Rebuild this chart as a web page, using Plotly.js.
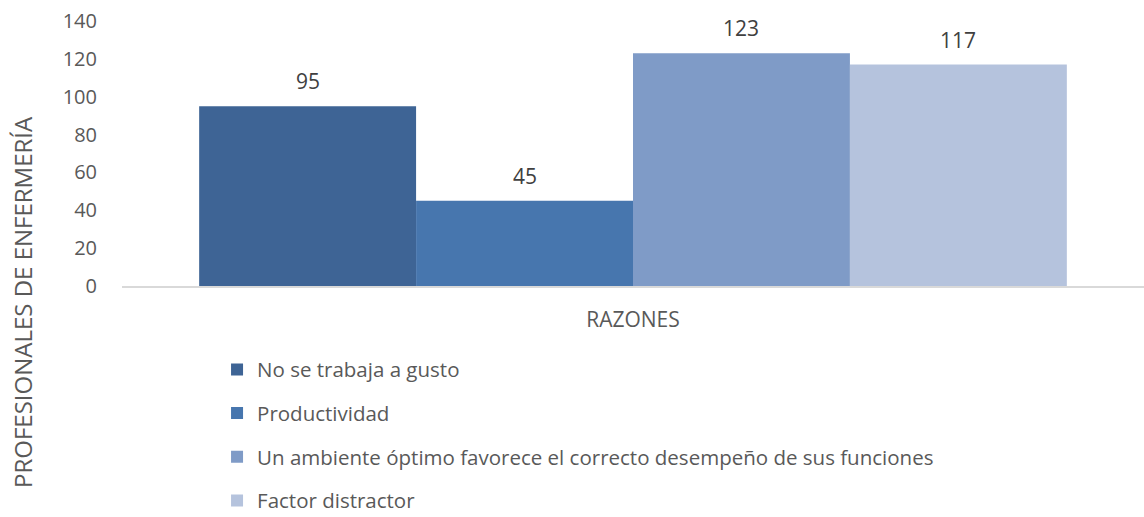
<!DOCTYPE html>
<html>
<head>
<meta charset="utf-8">
<script src="https://cdn.plot.ly/plotly-3.0.1.min.js"></script>
<style>html,body{margin:0;padding:0;background:#fff;}#chart{width:1144px;height:517px;}</style>
</head>
<body>
<div id="chart"></div>
<script>
const categories = ["RAZONES"];
const seriesNames = [
  "No se trabaja a gusto",
  "Productividad",
  "Un ambiente óptimo favorece el correcto desempeño de sus funciones",
  "Factor distractor"
];
const seriesValues = [95, 45, 123, 117];
const seriesColors = ["#3E6495", "#4776AE", "#7F9BC7", "#B5C3DD"];
const yTickValues = [0, 20, 40, 60, 80, 100, 120, 140];

const FONT = "'Open Sans', Lato, sans-serif";
const BARGAP = 0.151;
const nSeries = seriesNames.length;

const traces = seriesNames.map((name, i) => ({
  type: "bar",
  name: name,
  x: categories,
  y: [seriesValues[i]],
  marker: { color: seriesColors[i], line: { width: 0 } },
  legendgroup: "g" + i,
  hoverinfo: "none"
}));

// data labels placed through the axis scales: group slot centre of each series
const slot = (1 - BARGAP) / nSeries;
const labelAnnotations = seriesValues.map((v, i) => ({
  xref: "x", yref: "y",
  x: -(1 - BARGAP) / 2 + (i + 0.5) * slot,
  y: v,
  text: String(v),
  showarrow: false,
  xanchor: "center", yanchor: "bottom",
  yshift: 9,
  font: { family: FONT, size: 21, color: "#404040" }
}));

const layout = {
  width: 1144,
  height: 517,
  margin: { l: 122, r: 0, t: 21, b: 231, pad: 0, autoexpand: false },
  paper_bgcolor: "#ffffff",
  plot_bgcolor: "#ffffff",
  font: { family: FONT, size: 20, color: "#595959" },
  barmode: "group",
  bargap: BARGAP,
  bargroupgap: 0,
  showlegend: true,
  legend: {
    orientation: "v",
    x: 0.093, xanchor: "left",
    y: -0.24, yanchor: "top",
    font: { family: FONT, size: 20.5, color: "#595959" },
    tracegroupgap: 14,
    bgcolor: "rgba(0,0,0,0)"
  },
  xaxis: {
    type: "category",
    range: [-0.5, 0.5],
    showline: true,
    linecolor: "#D9D9D9",
    linewidth: 1.5,
    ticks: "",
    showgrid: false,
    zeroline: false,
    tickfont: { family: FONT, size: 21, color: "#595959" },
    ticklabelstandoff: 14
  },
  yaxis: {
    range: [0, 140],
    tickvals: yTickValues,
    ticktext: yTickValues.map(String),
    showgrid: false,
    zeroline: false,
    showline: false,
    ticks: "",
    tickfont: { family: FONT, size: 20, color: "#595959" },
    ticklabelstandoff: 24
  },
  annotations: labelAnnotations.concat([{
    text: "PROFESIONALES DE ENFERMERÍA",
    xref: "paper", yref: "paper",
    x: 0, xshift: -100,
    y: 0, yshift: -16,
    xanchor: "center", yanchor: "middle",
    textangle: -90,
    showarrow: false,
    font: { family: FONT, size: 24, color: "#595959" }
  }])
};

Plotly.newPlot("chart", traces, layout, { displayModeBar: false, staticPlot: true });
</script>
</body>
</html>
